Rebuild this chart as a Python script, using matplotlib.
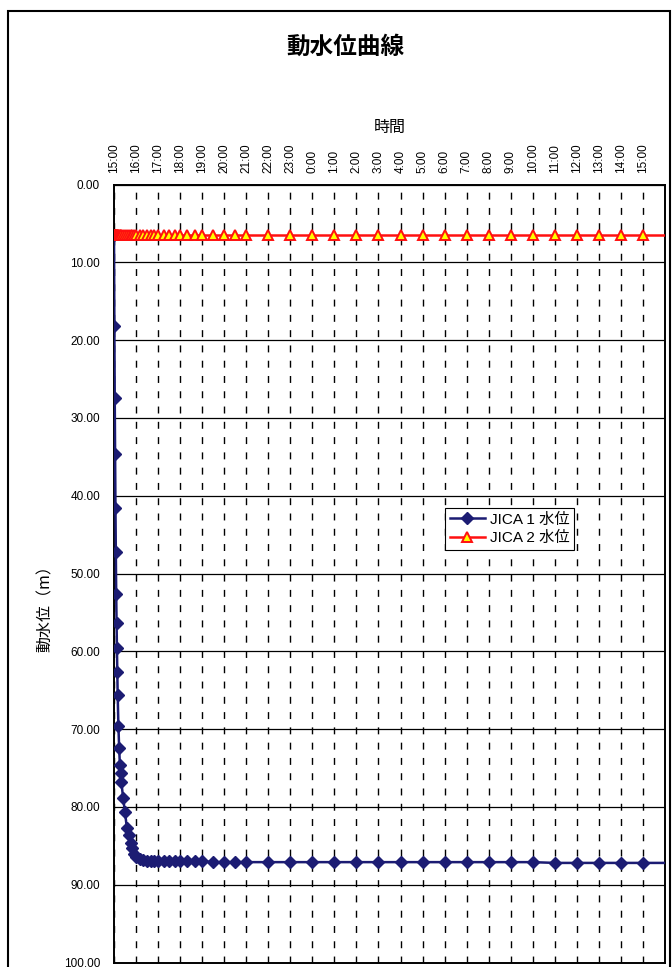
import matplotlib
matplotlib.use("Agg")
import matplotlib.pyplot as plt
from matplotlib.patches import Rectangle

# ---------------- data ----------------
elapsed_min = [0, 1, 2, 3, 4, 5, 6, 7, 8, 9, 10, 12, 14, 16, 18, 20, 25, 30, 35, 40,
               45, 50, 55, 60, 70, 80, 90, 100, 110, 120, 135, 150, 165, 180, 200,
               220, 240, 270, 300, 330, 360, 420, 480, 540, 600, 660, 720, 780, 840,
               900, 960, 1020, 1080, 1140, 1200, 1260, 1320, 1380, 1440, 1560]
jica1_level = [6.5, 18.2, 27.4, 34.6, 41.6, 47.3, 52.6, 56.4, 59.6, 62.7, 65.6, 69.6,
               72.4, 74.6, 75.7, 76.8, 78.9, 80.7, 82.7, 83.6, 84.7, 85.3, 86.0, 86.4,
               86.7, 86.8, 86.9, 86.9, 87.0, 87.0, 87.0, 87.0, 87.0, 87.0, 87.0, 87.0,
               87.0, 87.1, 87.1, 87.1, 87.1, 87.1, 87.1, 87.1, 87.1, 87.1, 87.1, 87.1,
               87.1, 87.1, 87.1, 87.1, 87.1, 87.1, 87.2, 87.2, 87.2, 87.2, 87.2, 87.2]
jica2_level = [6.5] * len(elapsed_min)

time_labels = ["15:00", "16:00", "17:00", "18:00", "19:00", "20:00", "21:00", "22:00",
               "23:00", "0:00", "1:00", "2:00", "3:00", "4:00", "5:00", "6:00", "7:00",
               "8:00", "9:00", "10:00", "11:00", "12:00", "13:00", "14:00", "15:00"]
y_ticks = [0, 10, 20, 30, 40, 50, 60, 70, 80, 90, 100]

title = "動水位曲線"
x_title = "時間"
y_title = "動水位（m）"
series_names = ["JICA 1 水位", "JICA 2 水位"]

# ---------------- figure ----------------
plt.rcParams["lines.scale_dashes"] = False
W, H = 672, 967
fig = plt.figure(figsize=(W / 100, H / 100), dpi=100)
fig.patch.set_facecolor("white")

L, R, T, B = 114, 665, 184.5, 962.5
ax = fig.add_axes([L / W, 1 - B / H, (R - L) / W, (B - T) / H])

hours = [m / 60 for m in elapsed_min]
ax.plot(hours, jica1_level, color="#1C1C73", lw=1.8, marker="D", ms=6.2,
        mfc="#1C1C73", mec="#1C1C73", label=series_names[0], zorder=3)
ax.plot(hours, jica2_level, color="#FF1010", lw=1.8, marker="^", ms=7.2,
        mfc="#FFFF00", mec="#FF1010", mew=1.4, label=series_names[1], zorder=4)

ax.set_xlim(0, 25)
ax.set_ylim(100, 0)
ax.set_xticks(range(len(time_labels)))
ax.set_xticklabels(time_labels, rotation=90, family="Liberation Sans", fontsize=8.5)
ax.set_yticks(y_ticks)
ax.set_yticklabels([f"{v:.2f}" for v in y_ticks], family="Liberation Sans", fontsize=8.5)
ax.xaxis.tick_top()
ax.tick_params(axis="x", length=0, pad=8, top=True, bottom=False)
ax.tick_params(axis="y", length=0, pad=10)

ax.grid(axis="x", color="black", lw=1.0, linestyle=(0, (5, 6)))
ax.grid(axis="y", color="black", lw=0.9, linestyle="-")
ax.set_axisbelow(True)
for s in ax.spines.values():
    s.set_color("black")
    s.set_linewidth(1.4)

leg = ax.legend(loc="upper left", bbox_to_anchor=((445 - L) / (R - L), 1 - (508 - T) / (B - T)),
                frameon=True, fancybox=False, framealpha=1, edgecolor="black",
                prop={"family": ["Liberation Sans", "Noto Sans CJK JP"], "size": 11},
                handlelength=2.3, handletextpad=0.35, borderpad=0.3, labelspacing=0.3,
                borderaxespad=0)
leg.get_frame().set_linewidth(0.8)

fig.text(345.5 / W, 1 - 47 / H, title, ha="center", va="center", fontsize=17,
         fontweight="bold", family=["Noto Sans CJK JP"])
fig.text(389.5 / W, 1 - 127 / H, x_title, ha="center", va="center", fontsize=11.5,
         family=["Noto Sans CJK JP"])
fig.text(45 / W, 1 - 605 / H, y_title, ha="center", va="center", fontsize=11.5,
         rotation=90, family=["Noto Sans CJK JP"])

fig.patches.append(Rectangle((7.5, -20), 662, H - 10.5 + 20, transform=None,
                             fill=False, edgecolor="black", lw=1.5))

fig.savefig("out.png", dpi=100, facecolor="white")
